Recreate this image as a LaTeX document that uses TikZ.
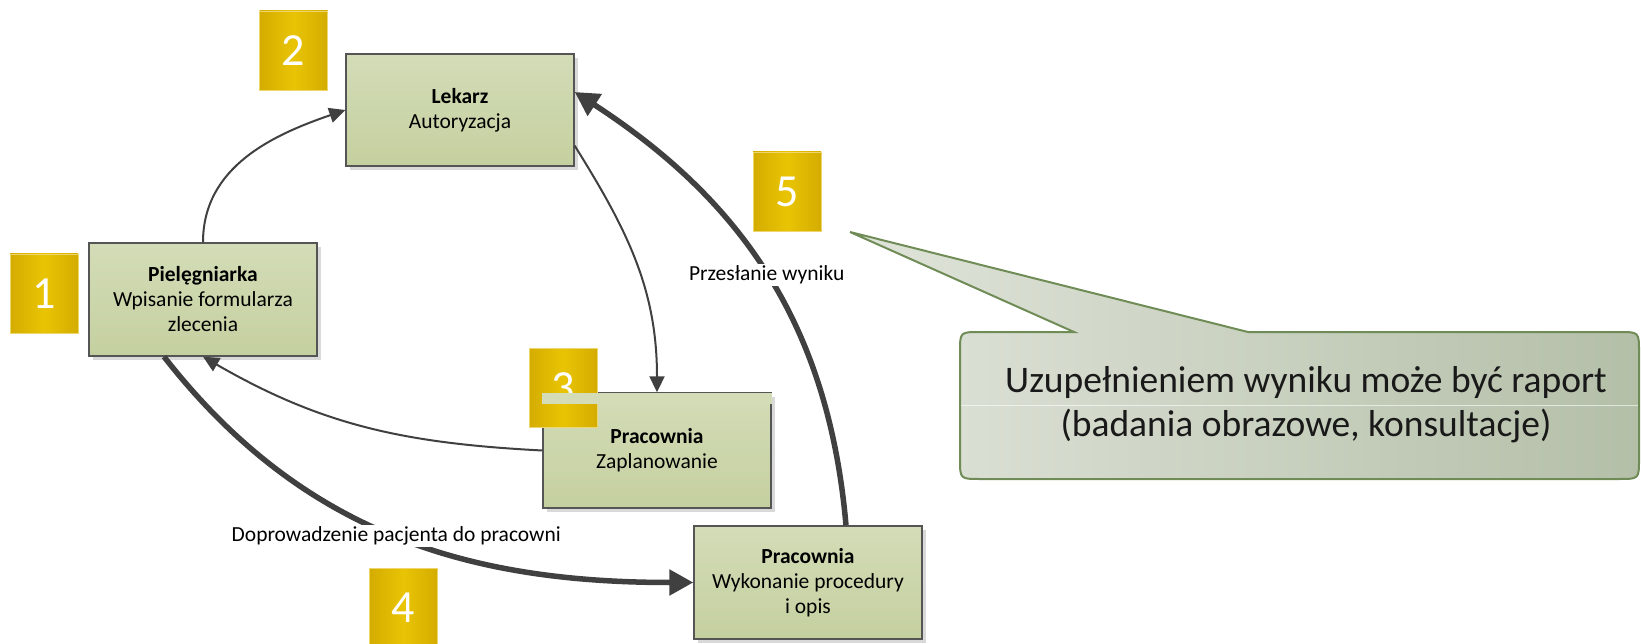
\documentclass[tikz,border=0pt]{standalone}
\usepackage{fontspec}
\setmainfont{Carlito}
\usetikzlibrary{arrows.meta}
\definecolor{boxtop}{RGB}{211,220,183}
\definecolor{boxbot}{RGB}{197,208,160}
\definecolor{boxline}{RGB}{85,85,85}
\definecolor{goldA}{RGB}{212,172,0}
\definecolor{goldB}{RGB}{233,196,4}
\definecolor{goldE}{RGB}{236,214,110}
\definecolor{conn}{RGB}{64,64,64}
\definecolor{callL}{RGB}{224,228,218}
\definecolor{callR}{RGB}{180,191,168}
\definecolor{callB}{RGB}{112,140,86}
\begin{document}
\begin{tikzpicture}[x=1pt,y=-1pt,
  box/.style={draw=boxline, line width=1.4pt, top color=boxtop, bottom color=boxbot,
    minimum width=228pt, minimum height=113pt, inner sep=0pt, align=center,
    font=\fontsize{21.5}{25}\selectfont,
    preaction={fill=black!15, transform canvas={xshift=4pt,yshift=-4pt}}},
  num/.style={minimum width=68pt, minimum height=79pt, inner sep=0pt, text=white,
    font=\fontsize{46}{46}\selectfont, left color=goldA, right color=goldA,
    middle color=goldB, draw=goldE, line width=0.8pt},
  thinarrow/.style={draw=conn, line width=2pt, -{Triangle[length=16pt,width=15pt]}},
  thickarrow/.style={draw=conn, line width=5.5pt, -{Triangle[length=24pt,width=25pt]}},
  lbl/.style={fill=white, inner sep=2pt, font=\fontsize{21.5}{25}\selectfont, text=black}
]
\useasboundingbox (0,0) rectangle (1641,644);

% callout
\path[left color=callL, right color=callR, draw=callB, line width=2pt]
  (1074,332) -- (850,232) -- (1248,332) -- (1619,332) .. controls (1639,332) .. (1639,352)
  -- (1639,459) .. controls (1639,479) .. (1619,479) -- (980,479) .. controls (960,479) .. (960,459)
  -- (960,352) .. controls (960,332) .. (980,332) -- cycle;
\draw[white, opacity=0.6, line width=1pt] (961,405) -- (1638,405);
\node[font=\fontsize{37.5}{44}\selectfont, align=center, text=black!90] (ct) at (1306,405)
  {Uzupełnieniem wyniku może być raport\\(badania obrazowe, konsultacje)};

% boxes
\node[box] (p) at (203,299.5) {\textbf{Pielęgniarka}\\Wpisanie formularza\\zlecenia};
\node[box, minimum height=112pt] (l) at (460,110) {\textbf{Lekarz}\\Autoryzacja};
\node[box, minimum height=115pt] (z) at (657,450.5) {\textbf{Pracownia}\\Zaplanowanie};
\node[box] (w) at (808,582.5) {\textbf{Pracownia}\\Wykonanie procedury\\i opis};

% number squares
\node[num] (n1) at (44,293.5) {1};
\node[num] (n2) at (293.5,50.5) {2};
\node[num] (n3) at (563,387.5) {3};
\node[num] (n4) at (403.5,607.5) {4};
\node[num] (n5) at (787,191.5) {5};
\fill[boxtop] (541.5,392.5) rectangle (772,404);

% connectors
\draw[thinarrow] (p.north) to[out=90,in=199] (l.west);
\draw[thinarrow] ([yshift=21pt]l.south east) to[out=-58,in=90] (z.north);
\draw[thinarrow] (z.west) to[out=177,in=-30] (p.south);
\draw[thickarrow] ([xshift=-39pt]p.south) to[out=-52,in=180]
  node[lbl] {Doprowadzenie pacjenta do pracowni} (w.west);
\draw[thickarrow] ([xshift=38pt]w.north) to[out=95,in=-33]
  node[lbl] {Przesłanie wyniku} ([yshift=18pt]l.east);
\end{tikzpicture}
\end{document}
